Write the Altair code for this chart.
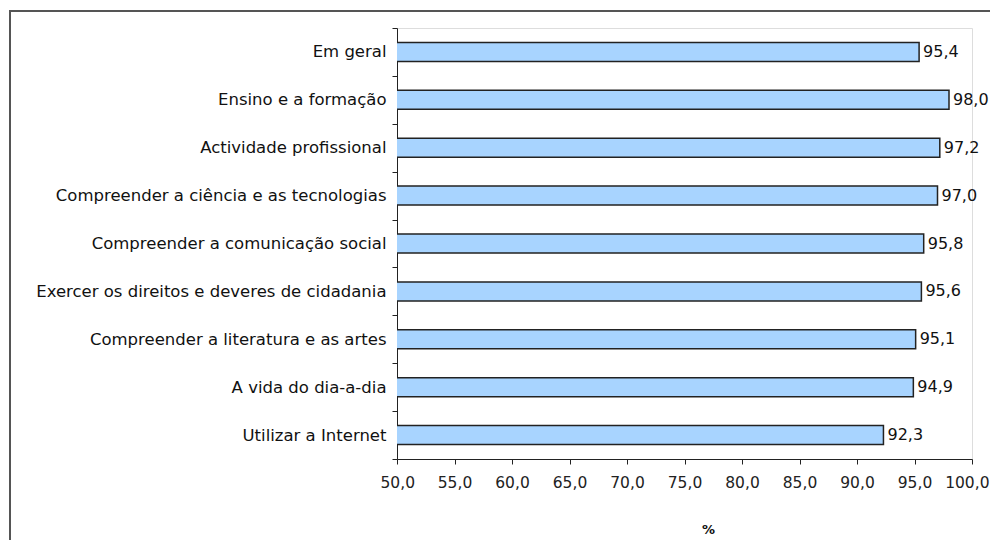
import altair as alt
import pandas as pd

categories = [
    "Em geral",
    "Ensino e a formação",
    "Actividade profissional",
    "Compreender a ciência e as tecnologias",
    "Compreender a comunicação social",
    "Exercer os direitos e deveres de cidadania",
    "Compreender a literatura e as artes",
    "A vida do dia-a-dia",
    "Utilizar a Internet",
]
values = [95.4, 98.0, 97.2, 97.0, 95.8, 95.6, 95.1, 94.9, 92.3]

df = pd.DataFrame({"cat": categories, "val": values})
df["lbl"] = [f"{v:.1f}".replace(".", ",") for v in values]

FONT = "DejaVu Sans"
FS_CAT = 16.5
FS_NUM = 15.5

y_enc = alt.Y(
    "cat:N",
    sort=categories,
    title=None,
    scale=alt.Scale(paddingInner=0, paddingOuter=0),
    axis=alt.Axis(
        tickBand="extent",
        labelFont=FONT,
        labelFontSize=FS_CAT,
        labelColor="#111",
        labelPadding=6,
        tickSize=5,
        tickColor="#222",
        domainColor="#222",
        labelLimit=400,
    ),
)

x_enc = alt.X(
    "val:Q",
    scale=alt.Scale(domain=[50, 100], nice=False, zero=False),
    title="%",
    axis=alt.Axis(
        values=[50, 55, 60, 65, 70, 75, 80, 85, 90, 95, 100],
        labelExpr="replace(format(datum.value, '.1f'), '.', ',')",
        labelFont=FONT,
        labelFontSize=FS_NUM,
        labelColor="#222",
        labelPadding=11,
        labelFlush=True,
        labelFlushOffset=17,
        labelOverlap=False,
        tickSize=5,
        tickColor="#222",
        domainColor="#222",
        grid=False,
        titleFont=FONT,
        titleFontSize=13,
        titleFontWeight="bold",
        titleColor="#111",
        titleX=311,
        titleY=70,
        titleAlign="center",
        titleBaseline="middle",
    ),
)

bars = alt.Chart(df).mark_bar(
    size=19, fill="#A8D4FF", stroke="#222", strokeWidth=1.5, clip=True
).encode(x=x_enc, x2=alt.value(0), y=y_enc)

labels = alt.Chart(df).mark_text(
    align="left", baseline="middle", dx=4, font=FONT, fontSize=16, color="#111"
).encode(x=alt.X("val:Q"), y=alt.Y("cat:N", sort=categories), text="lbl:N")

frame = alt.Chart(df).mark_rect(
    fill=None, stroke="#555", strokeWidth=2, clip=False
).encode(
    x=alt.value(-387), x2=alt.value(700), y=alt.value(-17), y2=alt.value(600)
).transform_filter("datum.cat == 'Em geral'")

chart = alt.layer(frame, bars, labels).properties(
    width=575,
    height=431,
    autosize=alt.AutoSizeParams(type="none"),
    padding={"left": 389, "top": 20, "right": 18, "bottom": 81},
).configure_view(stroke=None).configure(background="white")

chart.save("out.html", embed_options={"renderer": "svg", "actions": False})
